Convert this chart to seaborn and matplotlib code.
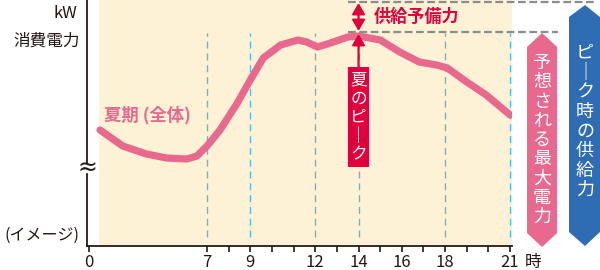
import numpy as np
import pandas as pd
import matplotlib
matplotlib.use("Agg")
import matplotlib.pyplot as plt
import seaborn as sns
from matplotlib.patches import Polygon, Rectangle

# ---------------- data ----------------
hours = [0.65, 2.0, 3.4, 4.6, 5.8, 6.4, 7.0, 7.6, 8.4, 9.05, 9.6, 10.4, 11.2,
         11.6, 12.1, 12.7, 13.5, 14.0, 15.0, 15.9, 16.8, 17.6, 18.1, 19.0,
         19.9, 21.0]
demand = [116, 100, 92, 88, 87, 90, 100, 116, 143, 168, 188, 201, 206,
          204, 199, 203, 209, 210, 206, 194, 184, 181, 178, 164,
          151, 131]
tick_hours = [0, 7, 9, 12, 14, 16, 18, 21]
tick_labels = ["0", "7", "9", "12", "14", "16", "18", "21"]
minor_hours = [8, 10, 11, 13, 15, 17, 19, 20]
guide_hours = [7, 9, 12, 14, 18, 21]
peak_level = 214      # expected maximum demand
supply_level = 244    # supply capacity at peak
peak_hour = 14

series_label = "夏期 (全体)"
reserve_label = "供給予備力"
peak_label = ["夏", "の", "ピ", "｜", "ク"]
demand_label = list("予想される最大電力")
supply_label = ["ピ", "｜", "ク", "時", "の", "供", "給", "力"]

# ---------------- style ----------------
sns.set_style("white")
plt.rcParams["font.family"] = ["Noto Sans CJK JP", "DejaVu Sans"]

PINK = "#E8688E"
RED = "#E2003C"
BLUE = "#2E6DB4"
BEIGE = "#FDF2D5"
GUIDE = "#55BCE3"
GRAY = "#8C8C8C"
DARK = "#231815"

W, H = 600, 270
fig = plt.figure(figsize=(W / 100, H / 100), dpi=100)
ax = fig.add_axes([87 / W, 24 / H, 425 / W, 246 / H])


def fwd(h):
    h = np.asarray(h, float)
    return np.where(h <= 7, h * 118 / 7, 118 + (h - 7) * 21.64)


def inv(p):
    p = np.asarray(p, float)
    return np.where(p <= 118, p * 7 / 118, 7 + (p - 118) / 21.64)


ax.set_xscale("function", functions=(fwd, inv))
ax.set_xlim(-0.119, 21.09)
ax.set_ylim(0, 246)

ax.axvspan(0.6, 21.09, color=BEIGE, lw=0, zorder=0)
ax.vlines(guide_hours, 9, 213, colors=GUIDE, lw=1.0,
          linestyles=(0, (5, 3.5)), zorder=1)

df = pd.DataFrame({"hour": hours, "demand": demand})
sns.lineplot(data=df, x="hour", y="demand", ax=ax, color=PINK, lw=5.2,
             sort=False, solid_capstyle="round", solid_joinstyle="round",
             zorder=3)

# reference levels (extend beyond the axes)
ax.plot([13.5, 24.9], [supply_level, supply_level], color=GRAY, lw=1.6,
        ls=(0, (3.5, 1.6)), clip_on=False, zorder=2)
ax.plot([13.5, 23.2], [peak_level, peak_level], color=GRAY, lw=1.6,
        ls=(0, (3.5, 1.6)), clip_on=False, zorder=2)

ax.annotate("", xy=(peak_hour, supply_level - 1), xytext=(peak_hour, peak_level + 1),
            arrowprops=dict(arrowstyle="<|-|>,head_length=0.6,head_width=0.35",
                            color=RED, lw=1.6, shrinkA=0, shrinkB=0,
                            mutation_scale=11), annotation_clip=False)
ax.annotate("", xy=(peak_hour, peak_level - 2), xytext=(peak_hour, 179),
            arrowprops=dict(arrowstyle="-|>,head_length=0.6,head_width=0.35",
                            color=RED, lw=1.6, shrinkA=0, shrinkB=0,
                            mutation_scale=11))

# axes styling
for s in ["top", "right"]:
    ax.spines[s].set_visible(False)
for s in ["left", "bottom"]:
    ax.spines[s].set_color(DARK)
    ax.spines[s].set_linewidth(1.3)
ax.set_yticks([])
ax.set_xticks(tick_hours)
ax.set_xticklabels(tick_labels, fontsize=12, color=DARK)
ax.set_xticks(minor_hours, minor=True)
ax.tick_params(axis="x", which="both", direction="out", length=4, width=1.2,
               color=DARK, pad=1.5, bottom=True)
ax.set_xlabel("")
ax.set_ylabel("")

# ---------------- overlay in pixel coordinates ----------------
ov = fig.add_axes([0, 0, 1, 1], zorder=5)
ov.set_xlim(0, W)
ov.set_ylim(H, 0)
ov.axis("off")
ov.patch.set_alpha(0)

cx14 = ax.transData.transform((peak_hour, 0))[0]

ov.text(77, 14, "kW", ha="right", va="center", fontsize=12, color=DARK)
ov.text(80, 41, "消費電力", ha="right", va="center", fontsize=12, color=DARK)
ov.text(79, 235, "(イメージ)", ha="right", va="center", fontsize=11.5, color=DARK)
ov.text(533, 262, "時", ha="center", va="center", fontsize=12, color=DARK)

# axis break
ov.add_patch(Rectangle((84, 164), 6, 8, color="white", zorder=5))
ov.text(87, 168, "≈", ha="center", va="center", fontsize=17, color=DARK,
        family="DejaVu Sans", zorder=6)

ov.text(104, 115, series_label, ha="left", va="center", fontsize=12.5,
        color=PINK, fontweight="bold")
ov.text(374, 17, reserve_label, ha="left", va="center", fontsize=12.3,
        color=RED, fontweight="bold")

# red peak box
ov.add_patch(Rectangle((cx14 - 10.5, 67), 21, 100, color=RED, lw=0, zorder=3))
for i, ch in enumerate(peak_label):
    ov.text(cx14, 80 + i * 18.8, ch, ha="center", va="center", fontsize=12,
            color="white", zorder=4)

# pink hexagon
ov.add_patch(Polygon([(542, 33), (557, 47), (557, 233), (542, 247),
                      (527, 233), (527, 47)], closed=True, color=PINK, lw=0))
for i, ch in enumerate(demand_label):
    ov.text(542, 63 + i * 19.25, ch, ha="center", va="center", fontsize=13,
            color="white")

# blue hexagon
ov.add_patch(Polygon([(585, 5), (600, 17), (600, 232), (585, 246),
                      (569, 232), (569, 17)], closed=True, color=BLUE, lw=0))
for i, ch in enumerate(supply_label):
    ov.text(585, 53 + i * 19.6, ch, ha="center", va="center", fontsize=13,
            color="white")

fig.savefig("out.png", dpi=100)
